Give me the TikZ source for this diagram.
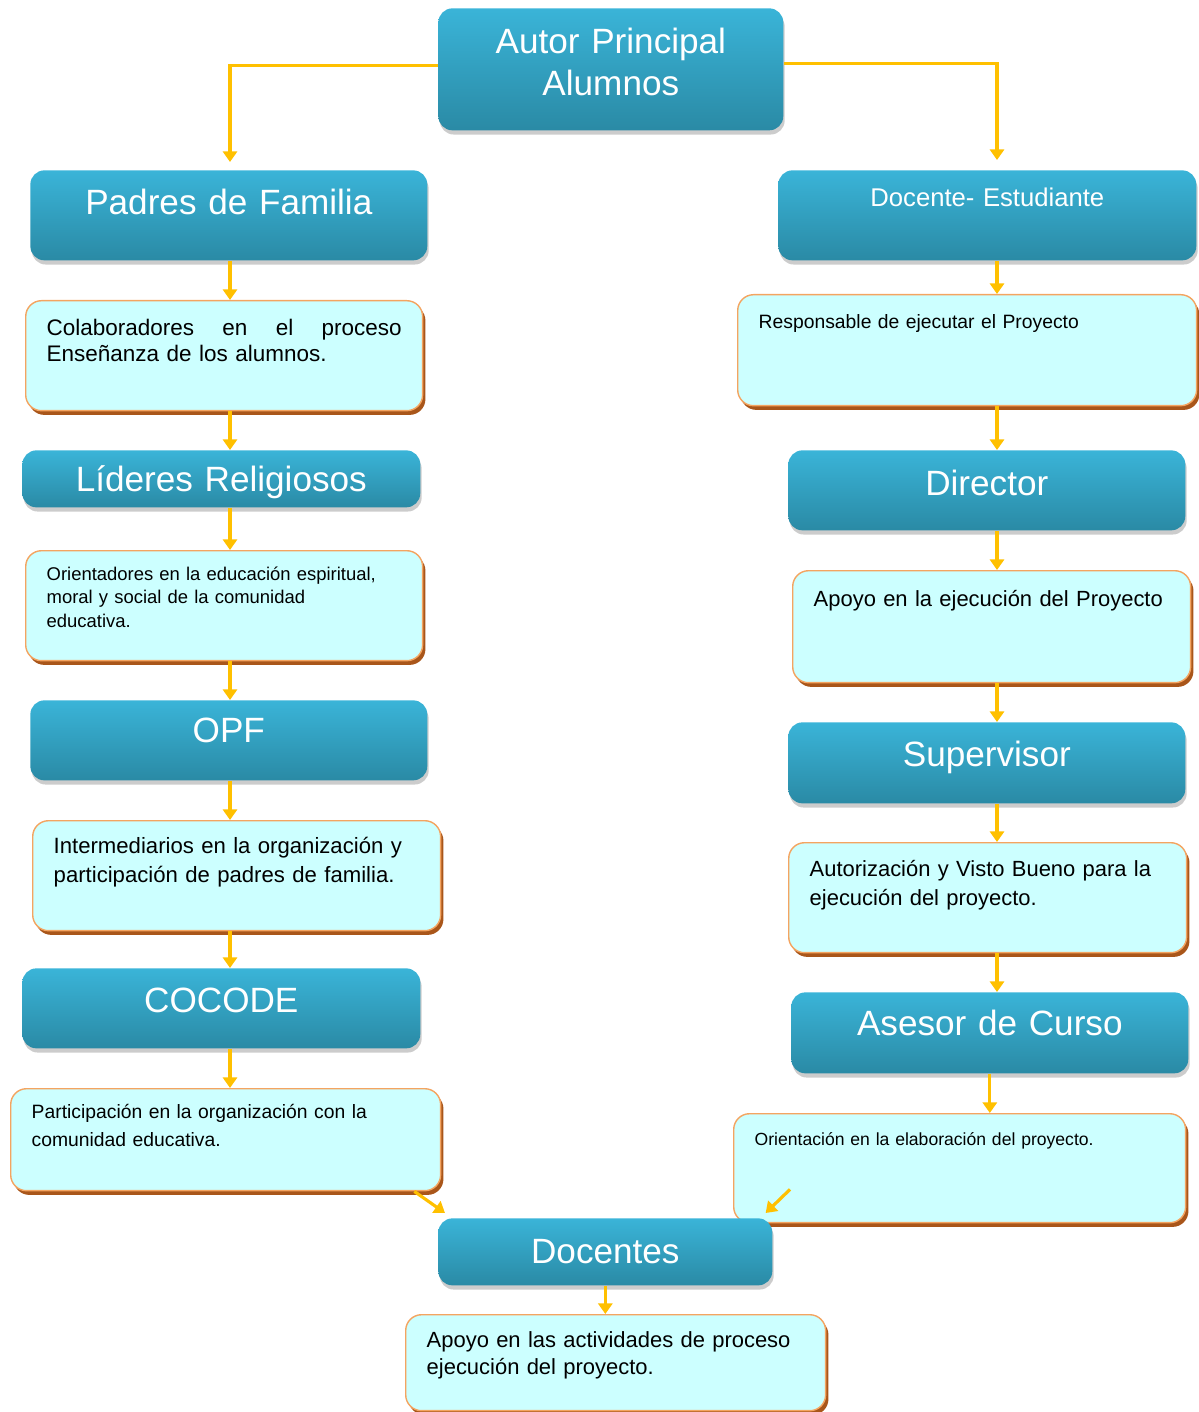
\documentclass[tikz,border=0pt]{standalone}
\usepackage{fontspec}
\setmainfont{Liberation Sans}
\usetikzlibrary{arrows.meta,shadows}

\definecolor{azulA}{HTML}{3AB4D8}
\definecolor{azulB}{HTML}{2A8AA5}
\definecolor{celeste}{HTML}{CCFFFF}
\definecolor{naranja}{HTML}{F4A460}
\definecolor{cafe}{HTML}{A9561A}
\definecolor{oro}{HTML}{FFC000}

\tikzset{
	titulo/.style={anchor=north west, inner sep=0pt, rounded corners=8pt, top color=azulA, bottom color=azulB, text=white, align=center, font=\fontsize{20}{23.5}\selectfont, drop shadow={opacity=0.4, shadow xshift=0.8pt, shadow yshift=-2.4pt}},
	nota/.style={anchor=north west, inner xsep=0.42cm, inner ysep=0pt, rounded corners=9pt, fill=celeste, draw=naranja, line width=0.8pt, text=black, align=left, drop shadow={fill=cafe, opacity=1, shadow xshift=1.6pt, shadow yshift=-2.4pt}},
	flecha/.style={draw=oro, line width=1.8pt, -{Triangle[width=8pt,length=6pt]}}
}

\begin{document}
\begin{tikzpicture}[x=0.02cm, y=-0.02cm]
	\useasboundingbox (0,0) rectangle (1199,1412);
	\coordinate (ejeL) at (230,0);
	\coordinate (ejeR) at (997,0);

	\node[titulo, text width=6.9cm, text height=0.91cm, text depth=1.53cm] (autor) at (438,8) {Autor Principal\\Alumnos};

	\node[titulo, text width=7.94cm, text height=0.89cm, text depth=0.91cm] (padres) at (30,170) {Padres de Familia};
	\node[nota, font=\fontsize{12.8}{14.8}\selectfont, text width=7.1cm, text height=0.70cm, text depth=1.50cm] (colab) at (25,300) {Colaboradores\hfill en\hfill el\hfill proceso\\Enseñanza de los alumnos.};
	\node[titulo, text width=7.96cm, text height=0.83cm, text depth=0.31cm] (lideres) at (22,450) {Líderes Religiosos};
	\node[nota, font=\fontsize{10.5}{13.4}\selectfont, text width=7.1cm, text height=0.59cm, text depth=1.61cm] (orientadores) at (25,550) {Orientadores en la educación espiritual,\\moral y social de la comunidad\\educativa.};
	\node[titulo, text width=7.94cm, text height=0.85cm, text depth=0.75cm] (opf) at (30,700) {OPF};
	\node[nota, font=\fontsize{12.6}{16.5}\selectfont, text width=7.32cm, text height=0.66cm, text depth=1.54cm] (interm) at (32,820) {Intermediarios en la organización y\\participación de padres de familia.};
	\node[titulo, text width=7.96cm, text height=0.89cm, text depth=0.71cm] (cocode) at (22,968) {COCODE};
	\node[nota, font=\fontsize{11}{15.9}\selectfont, text width=7.76cm, text height=0.60cm, text depth=1.44cm] (partic) at (10,1088) {Participación en la organización con la\\comunidad educativa.};

	\node[titulo, font=\fontsize{14.6}{17}\selectfont, text width=8.36cm, text height=0.72cm, text depth=1.08cm] (docest) at (778,170) {Docente- Estudiante};
	\node[nota, font=\fontsize{11}{14}\selectfont, text width=8.34cm, text height=0.68cm, text depth=1.54cm] (respon) at (737,294) {Responsable de ejecutar el Proyecto};
	\node[titulo, text width=7.94cm, text height=0.91cm, text depth=0.69cm] (director) at (788,450) {Director};
	\node[nota, font=\fontsize{12.5}{16}\selectfont, text width=7.12cm, text height=0.72cm, text depth=1.52cm] (apoyoej) at (792,570) {Apoyo en la ejecución del Proyecto};
	\node[titulo, text width=7.94cm, text height=0.89cm, text depth=0.73cm] (supervisor) at (788,722) {Supervisor};
	\node[nota, font=\fontsize{12.5}{16.5}\selectfont, text width=7.12cm, text height=0.68cm, text depth=1.52cm] (autoriza) at (788,842) {Autorización y Visto Bueno para la\\ejecución del proyecto.};
	\node[titulo, text width=7.94cm, text height=0.87cm, text depth=0.75cm] (asesor) at (791,992) {Asesor de Curso};
	\node[nota, font=\fontsize{10}{12}\selectfont, text width=8.2cm, text height=0.64cm, text depth=1.54cm] (orientacion) at (733,1113) {Orientación en la elaboración del proyecto.};

	\node[titulo, text width=6.68cm, text height=0.91cm, text depth=0.43cm] (docentes) at (438,1218) {Docentes};
	\node[nota, font=\fontsize{12.5}{15.4}\selectfont, text width=7.56cm, text height=0.66cm, text depth=1.26cm] (apoyo) at (405,1314) {Apoyo en las actividades de proceso\\ejecución del proyecto.};

	\draw[flecha, shorten >=0.16cm] ([yshift=0.08cm]autor.west) -| (ejeL |- padres.north);
	\draw[flecha, shorten >=0.2cm] ([yshift=0.12cm]autor.east) -| (ejeR |- docest.north);

	\draw[flecha] (ejeL |- padres.south) -- (ejeL |- colab.north);
	\draw[flecha] (ejeL |- colab.south) -- (ejeL |- lideres.north);
	\draw[flecha] (ejeL |- lideres.south) -- (ejeL |- orientadores.north);
	\draw[flecha] (ejeL |- orientadores.south) -- (ejeL |- opf.north);
	\draw[flecha] (ejeL |- opf.south) -- (ejeL |- interm.north);
	\draw[flecha] (ejeL |- interm.south) -- (ejeL |- cocode.north);
	\draw[flecha] (ejeL |- cocode.south) -- (ejeL |- partic.north);

	\draw[flecha] (ejeR |- docest.south) -- (ejeR |- respon.north);
	\draw[flecha] (ejeR |- respon.south) -- (ejeR |- director.north);
	\draw[flecha] (ejeR |- director.south) -- (ejeR |- apoyoej.north);
	\draw[flecha] (ejeR |- apoyoej.south) -- (ejeR |- supervisor.north);
	\draw[flecha] (ejeR |- supervisor.south) -- (ejeR |- autoriza.north);
	\draw[flecha] (ejeR |- autoriza.south) -- (ejeR |- asesor.north);
	\draw[flecha] (asesor.south) -- (asesor.south |- orientacion.north);

	\draw[flecha] ([xshift=-0.54cm]partic.south east) -- ([shift={(0.14cm,0.1cm)}]docentes.north west);
	\draw[flecha] ([shift={(1.14cm,0.68cm)}]orientacion.south west) -- ([shift={(-0.14cm,0.1cm)}]docentes.north east);
	\draw[flecha] (docentes.south) -- (docentes.south |- apoyo.north);
\end{tikzpicture}
\end{document}
